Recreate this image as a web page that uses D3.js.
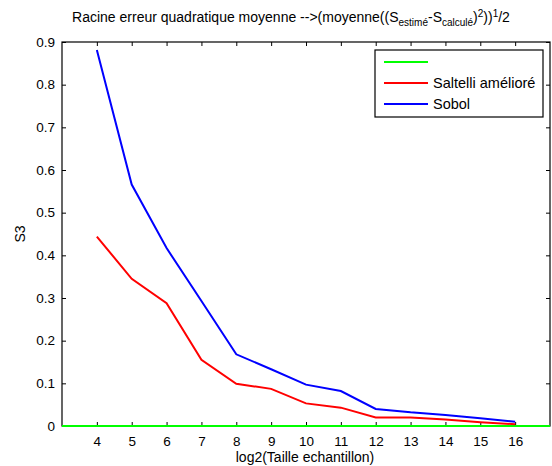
<!DOCTYPE html>
<html>
<head>
<meta charset="utf-8">
<style>
  body { margin: 0; background: #fff; }
  svg { font-family: "Liberation Sans", Arial, sans-serif; }
  .tick text { font-size: 13.5px; fill: #000; }
  .domain { display: none; }
</style>
</head>
<body>
<svg width="552" height="466"></svg>
<script src="https://d3js.org/d3.v7.min.js"></script>
<script>
// data
let sizes = [4, 5, 6, 7, 8, 9, 10, 11, 12, 13, 14, 15, 16];
let sobol = [0.881, 0.566, 0.417, 0.293, 0.168, 0.133, 0.097, 0.082, 0.040, 0.032, 0.026, 0.018, 0.010];
let saltelli = [0.444, 0.345, 0.288, 0.155, 0.099, 0.087, 0.053, 0.043, 0.020, 0.020, 0.015, 0.009, 0.004];
let zeroX = [3, 17];
let zeroY = [0, 0];
let yTicks = [0, 0.1, 0.2, 0.3, 0.4, 0.5, 0.6, 0.7, 0.8, 0.9];

let margin = { top: 42, right: 2, bottom: 40, left: 62 };
let width = 552, height = 466;

let svg = d3.select("svg");

let x = d3.scaleLinear().domain([3, 17]).range([margin.left, width - margin.right]);
let y = d3.scaleLinear().domain([0, 0.9]).range([height - margin.bottom, margin.top]);

// bottom axis (ticks inward)
svg.append("g")
  .attr("transform", `translate(0,${y(0)})`)
  .call(d3.axisBottom(x).tickValues(sizes).tickSize(-4).tickPadding(10).tickFormat(d3.format("d")))
  .selectAll("line").attr("stroke", "#000");

// top mirror ticks
svg.append("g")
  .attr("transform", `translate(0,${y(0.9)})`)
  .call(d3.axisTop(x).tickValues(sizes).tickSize(-4).tickFormat(""))
  .selectAll("line").attr("stroke", "#000");

// left axis
svg.append("g")
  .attr("transform", `translate(${x(3)},0)`)
  .call(d3.axisLeft(y).tickValues(yTicks).tickSize(-4).tickPadding(7).tickFormat(d => d === 0 ? "0" : d3.format(".1f")(d)))
  .selectAll("line").attr("stroke", "#000");

// right mirror ticks
svg.append("g")
  .attr("transform", `translate(${x(17)},0)`)
  .call(d3.axisRight(y).tickValues(yTicks).tickSize(-4).tickFormat(""))
  .selectAll("line").attr("stroke", "#000");

// frame
svg.append("rect")
  .attr("x", x(3)).attr("y", y(0.9))
  .attr("width", x(17) - x(3)).attr("height", y(0) - y(0.9))
  .attr("fill", "none").attr("stroke", "#000").attr("stroke-width", 1.2);

let line = d3.line().x(d => x(d[0])).y(d => y(d[1]));

svg.append("path")
  .datum(zeroX.map((v, i) => [v, zeroY[i]]))
  .attr("d", line).attr("fill", "none").attr("stroke", "#00ff00").attr("stroke-width", 2.2);

svg.append("path")
  .datum(sizes.map((v, i) => [v, saltelli[i]]))
  .attr("d", line).attr("fill", "none").attr("stroke", "#ff0000").attr("stroke-width", 2);

svg.append("path")
  .datum(sizes.map((v, i) => [v, sobol[i]]))
  .attr("d", line).attr("fill", "none").attr("stroke", "#0000ff").attr("stroke-width", 2);

// legend
let legend = svg.append("g");
legend.append("rect")
  .attr("x", 375).attr("y", 50).attr("width", 168).attr("height", 67)
  .attr("fill", "#fff").attr("stroke", "#000").attr("stroke-width", 1.2);

let items = [
  { label: "", color: "#00ff00" },
  { label: "Saltelli amélioré", color: "#ff0000" },
  { label: "Sobol", color: "#0000ff" }
];
items.forEach((d, i) => {
  let yy = 62 + i * 21;
  legend.append("line")
    .attr("x1", 384).attr("x2", 428).attr("y1", yy).attr("y2", yy)
    .attr("stroke", d.color).attr("stroke-width", 2);
  legend.append("text")
    .attr("x", 433).attr("y", yy + 5)
    .style("font-size", "14.5px")
    .text(d.label);
});

// title
let title = svg.append("text")
  .attr("x", 291).attr("y", 22)
  .attr("text-anchor", "middle")
  .style("font-size", "14px");
title.append("tspan").text("Racine erreur quadratique moyenne -->(moyenne((S");
title.append("tspan").attr("dy", 4).style("font-size", "10px").text("estimé");
title.append("tspan").attr("dy", -4).text("-S");
title.append("tspan").attr("dy", 4).style("font-size", "10px").text("calculé");
title.append("tspan").attr("dy", -4).text(")");
title.append("tspan").attr("dy", -5).style("font-size", "10px").text("2");
title.append("tspan").attr("dy", 5).text("))");
title.append("tspan").attr("dy", -5).style("font-size", "10px").text("1");
title.append("tspan").attr("dy", 5).text("/2");

// axis labels
svg.append("text")
  .attr("x", 305).attr("y", 462)
  .attr("text-anchor", "middle")
  .style("font-size", "14px")
  .text("log2(Taille echantillon)");

svg.append("text")
  .attr("transform", `translate(25,${(y(0) + y(0.9)) / 2}) rotate(-90)`)
  .attr("text-anchor", "middle")
  .style("font-size", "14px")
  .text("S3");
</script>
</body>
</html>
